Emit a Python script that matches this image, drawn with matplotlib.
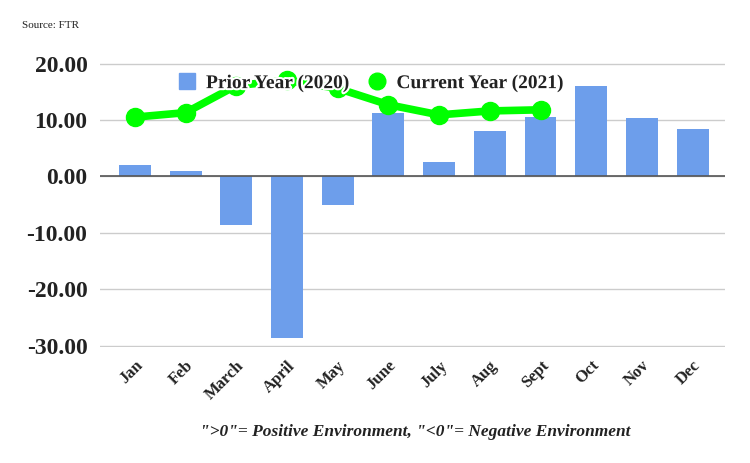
import matplotlib
matplotlib.use("Agg")
import matplotlib.pyplot as plt
import matplotlib.patheffects as pe
from matplotlib.lines import Line2D
import numpy as np

# Datos
months = ["Jan", "Feb", "March", "April", "May", "June", "July",
          "Aug", "Sept", "Oct", "Nov", "Dec"]
prior_2020 = [2.0, 1.0, -8.6, -28.6, -5.1, 11.3, 2.6, 8.1, 10.6, 16.1, 10.3, 8.4]
current_2021 = [10.5, 11.3, 16.1, 17.0, 15.6, 12.7, 10.9, 11.6, 11.8]
yticks = [-30, -20, -10, 0, 10, 20]

BAR_COLOR = "#6d9eeb"
LINE_COLOR = "#00ff00"

plt.rcParams["font.family"] = ["Liberation Serif", "DejaVu Serif"]

fig = plt.figure(figsize=(7.5, 4.63), dpi=100)
ax = fig.add_axes([0.1333, 0.2516, 0.8334, 0.613])

x = np.arange(len(months))
ax.bar(x, prior_2020, width=0.63, color=BAR_COLOR, zorder=2)
xc = np.arange(len(current_2021))
ax.plot(xc, current_2021, color=LINE_COLOR, lw=5.5, marker="o",
        markersize=13, zorder=3, solid_capstyle="round")

ax.set_xlim(-0.69, 11.64)
ax.set_ylim(-30.15, 20.15)
ax.set_yticks(yticks)
ax.set_yticklabels([f"{v:.2f}" for v in yticks], fontsize=17, fontweight="bold",
                   color="#222222")
ax.set_xticks(x)
ax.set_xticklabels(months, rotation=45, ha="right", rotation_mode="anchor",
                   fontsize=12, fontweight="bold", color="#222222")
ax.tick_params(axis="both", length=0)
ax.tick_params(axis="y", pad=9)
ax.tick_params(axis="x", pad=8)

for s in ax.spines.values():
    s.set_visible(False)
ax.grid(axis="y", color="#cccccc", lw=1, zorder=0)
ax.axhline(0, color="#555555", lw=1.2, zorder=2.5)

handles = [
    Line2D([], [], ls="none", marker="s", markersize=11, color=BAR_COLOR,
           label="Prior Year (2020)"),
    Line2D([], [], ls="none", marker="o", markersize=12, color=LINE_COLOR,
           label="Current Year (2021)"),
]
leg = ax.legend(handles=handles, ncol=2, frameon=False, loc="upper left",
                bbox_to_anchor=(0.095, 1.02), handletextpad=0.5,
                columnspacing=0.9, handlelength=1.0,
                prop={"size": 14, "weight": "bold"})
for t in leg.get_texts():
    t.set_color("#222222")
    t.set_path_effects([pe.withStroke(linewidth=3, foreground="white")])
leg.set_zorder(5)

fig.text(0.029, 0.94, "Source: FTR", fontsize=8, color="#222222")
fig.text(0.553, 0.067, "\">0\"= Positive Environment, \"<0\"= Negative Environment",
         ha="center", va="center", fontsize=12.5, fontstyle="italic",
         fontweight="bold", color="#222222")

fig.savefig("out.png", dpi=100)
